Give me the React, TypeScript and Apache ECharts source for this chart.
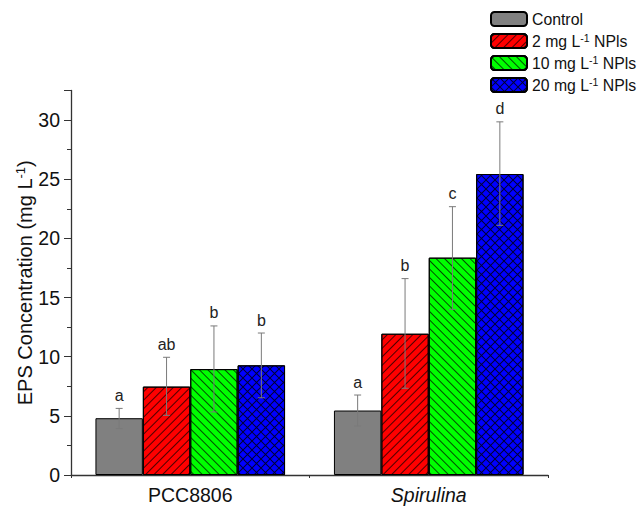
import React, { useEffect, useRef } from "react";
import * as echarts from "echarts";

const categories = ["PCC8806", "Spirulina"];
const seriesNames = ["Control", "2 mg L-1 NPls", "10 mg L-1 NPls", "20 mg L-1 NPls"];
const controlMean = [4.8, 5.45];
const controlLow = [3.92, 4.14];
const controlHigh = [5.63, 6.76];
const np2Mean = [7.47, 11.94];
const np2Low = [5.04, 7.33];
const np2High = [9.95, 16.6];
const np10Mean = [8.95, 18.37];
const np10Low = [5.33, 14.0];
const np10High = [12.6, 22.68];
const np20Mean = [9.27, 25.44];
const np20Low = [6.53, 21.1];
const np20High = [12.0, 29.85];
const controlLetters = ["a", "a"];
const np2Letters = ["ab", "b"];
const np10Letters = ["b", "c"];
const np20Letters = ["b", "d"];
const yTicks = [0, 5, 10, 15, 20, 25, 30];

const FONT = "'Liberation Sans', Arial, sans-serif";
const GAP = 0.205;

const means = [controlMean, np2Mean, np10Mean, np20Mean];
const lows = [controlLow, np2Low, np10Low, np20Low];
const highs = [controlHigh, np2High, np10High, np20High];
const letters = [controlLetters, np2Letters, np10Letters, np20Letters];
const colors = ["#808080", "#ff0000", "#00ff00", "#0000ff"];

const decals: any[] = [
  null,
  { symbol: "rect", color: "rgba(0,0,0,0.7)", dashArrayX: [1, 0], dashArrayY: [0.7, 4.6], rotation: -Math.PI / 4 },
  { symbol: "rect", color: "rgba(0,0,0,0.7)", dashArrayX: [1, 0], dashArrayY: [0.7, 4.6], rotation: Math.PI / 4 },
  {
    symbol: "path://M0,0L0.7,0L9,8.3L9,9L8.3,9L0,0.7ZM8.3,0L9,0L9,0.7L0.7,9L0,9L0,8.3Z",
    color: "rgba(0,0,0,0.8)",
    dashArrayX: [9, 0],
    dashArrayY: [9, 0],
    symbolSize: 1,
    rotation: 0,
  },
];

const legendLabel = (name: string) => name.replace("L-1", "L{sup|-1}");

export default function App() {
  const ref = useRef<HTMLDivElement>(null);
  useEffect(() => {
    if (!ref.current) return;
    const chart = echarts.init(ref.current, undefined, { renderer: "svg" });
    const barSeries = seriesNames.map((name, s) => ({
      type: "bar",
      name,
      data: means[s],
      barGap: "0%",
      barCategoryGap: GAP * 100 + "%",
      itemStyle: {
        color: colors[s],
        borderColor: "#000",
        borderWidth: 1,
        decal: decals[s] || undefined,
      },
      z: 2,
    }));
    const errSeries = seriesNames.map((name, s) => ({
      type: "custom",
      name: "err" + s,
      data: categories.map((_, i) => [i, lows[s][i], highs[s][i]]),
      z: 5,
      renderItem: (params: any, api: any) => {
        const i = api.value(0);
        const lo = api.coord([i, api.value(1)]);
        const hi = api.coord([i, api.value(2)]);
        const band = api.size([1, 0])[0];
        const barW = (band * (1 - GAP)) / 4;
        const x = lo[0] + (s - 1.5) * barW;
        const cap = 3.5;
        const st = { stroke: "#7a7a7a", lineWidth: 1 };
        return {
          type: "group",
          children: [
            { type: "line", shape: { x1: x, y1: lo[1], x2: x, y2: hi[1] }, style: st },
            { type: "line", shape: { x1: x - cap, y1: lo[1], x2: x + cap, y2: lo[1] }, style: st },
            { type: "line", shape: { x1: x - cap, y1: hi[1], x2: x + cap, y2: hi[1] }, style: st },
            {
              type: "text",
              x: x,
              y: hi[1] - 5,
              style: {
                text: letters[s][params.dataIndex],
                textAlign: "center",
                textVerticalAlign: "bottom",
                fontSize: 16,
                fontFamily: FONT,
                fill: "#222",
              },
            },
          ],
        };
      },
    }));
    chart.setOption({
      animation: false,
      grid: { left: 71, right: 93, top: 90.5, bottom: 32 },
      legend: {
        data: seriesNames,
        orient: "vertical",
        left: 490,
        top: 11,
        padding: 0,
        itemWidth: 36,
        itemHeight: 14,
        itemGap: 5,
        selectedMode: false,
        formatter: legendLabel,
        textStyle: {
          fontFamily: FONT,
          fontSize: 15.8,
          lineHeight: 16,
          color: "#111",
          padding: [0, 0, 0, 0],
          rich: {
            sup: { fontSize: 10.5, lineHeight: 10, fontFamily: FONT, color: "#111", verticalAlign: "bottom", padding: [0, 0, 6, 0] },
          },
        },
      },
      xAxis: [
        {
          type: "category",
          data: categories,
          axisLine: { lineStyle: { color: "#333", width: 1.3 } },
          axisTick: { alignWithLabel: true, length: 6, lineStyle: { color: "#333" } },
          axisLabel: {
            fontFamily: FONT,
            fontSize: 19.5,
            color: "#111",
            margin: 10,
            formatter: (v: string) => (v === "Spirulina" ? "{it|" + v + "}" : v),
            rich: { it: { fontStyle: "italic", fontFamily: FONT, fontSize: 19.5, color: "#111" } },
          },
        },
        {
          type: "value",
          min: 0,
          max: 2,
          interval: 1,
          position: "bottom",
          axisLine: { show: false },
          axisTick: { show: true, length: 3, lineStyle: { color: "#333" } },
          axisLabel: { show: false },
          splitLine: { show: false },
        },
      ],
      yAxis: {
        type: "value",
        min: 0,
        max: 32.5,
        interval: 5,
        name: "EPS Concentration (mg L{sup|-1})",
        nameLocation: "middle",
        nameGap: 35,
        nameMoveOverlap: false,
        nameTextStyle: {
          fontFamily: FONT,
          fontSize: 20,
          color: "#111",
          rich: {
            sup: { fontSize: 13, fontFamily: FONT, color: "#111", verticalAlign: "bottom", padding: [0, 0, 9, 0] },
          },
        },
        axisLine: { show: true, lineStyle: { color: "#333", width: 1.3 } },
        axisTick: { show: true, length: 7, lineStyle: { color: "#333" } },
        minorTick: { show: true, splitNumber: 2, length: 4, lineStyle: { color: "#333" } },
        splitLine: { show: false },
        axisLabel: {
          fontFamily: FONT,
          fontSize: 19.5,
          color: "#111",
          margin: 11,
          formatter: (v: number) => (yTicks.indexOf(v) >= 0 ? String(v) : ""),
        },
      },
      series: [...barSeries, ...errSeries],
    });
    return () => chart.dispose();
  }, []);
  return <div ref={ref} style={{ width: 641, height: 507, position: "absolute", left: 0, top: 0 }} />;
}
